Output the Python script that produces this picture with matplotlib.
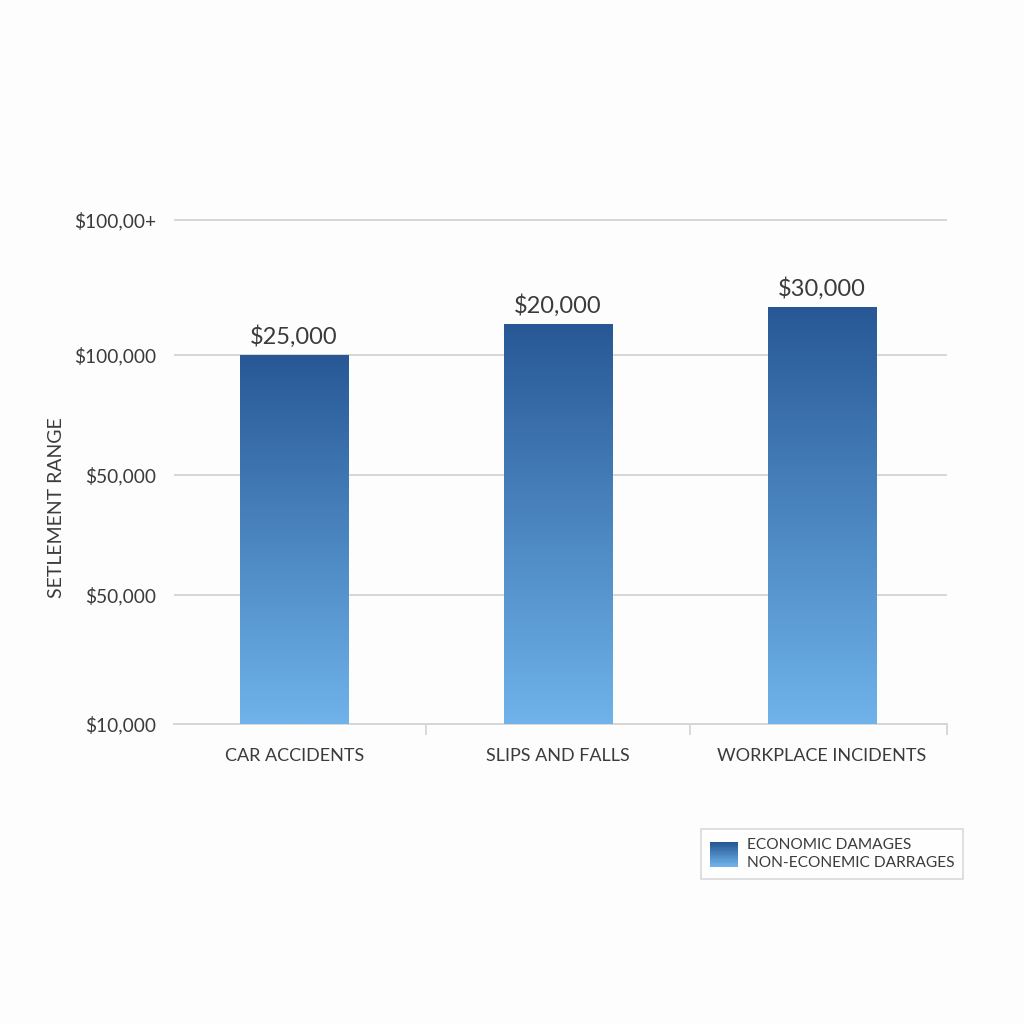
import numpy as np
import matplotlib.pyplot as plt
from matplotlib.patches import Rectangle
from matplotlib.legend_handler import HandlerBase
from matplotlib.colors import LinearSegmentedColormap

plt.rcParams['font.family'] = ['Lato', 'DejaVu Sans']

categories = ['CAR ACCIDENTS', 'SLIPS AND FALLS', 'WORKPLACE INCIDENTS']
# bar heights in axis units (the axis labels are not linear)
bar_heights = [369, 400, 417]
value_labels = ['$25,000', '$20,000', '$30,000']
ytick_pos = [0, 129, 249, 369, 504]
ytick_labels = ['$10,000', '$50,000', '$50,000', '$100,000', '$100,00+']
legend_label = 'ECONOMIC DAMAGES\nNON-ECONEMIC DARRAGES'

top_col = '#275895'
bot_col = '#6fb3ea'
text_col = '#3b3b3b'
grid_col = '#d6d6d6'
cmap = LinearSegmentedColormap.from_list('blues', [bot_col, top_col])


class GradientHandler(HandlerBase):
    def create_artists(self, legend, orig_handle, xdescent, ydescent,
                       width, height, fontsize, trans):
        n = 30
        arts = []
        for i in range(n):
            r = Rectangle((-xdescent, -ydescent + height * i / n), width, height / n + 0.3,
                          facecolor=cmap(i / (n - 1)), edgecolor='none', transform=trans)
            arts.append(r)
        return arts


fig = plt.figure(figsize=(10.24, 10.24), dpi=100, facecolor='#fdfdfd')
ax = fig.add_axes([0.170, 0.293, 0.755, 0.508])
ax.set_facecolor('#fdfdfd')

x = np.arange(len(categories))
width = 0.41
bars = ax.bar(x, bar_heights, width=width, color='none', zorder=3)

grad = np.linspace(0, 1, 256).reshape(-1, 1)
for b in bars:
    x0, y0 = b.get_x(), b.get_y()
    img = ax.imshow(grad, cmap=cmap, origin='lower', aspect='auto',
                    extent=[x0, x0 + b.get_width(), y0, y0 + b.get_height()], zorder=3)
    img.set_clip_path(b)

for xi, h, lab in zip(x, bar_heights, value_labels):
    ax.annotate(lab, (xi, h), xytext=(0, 5), textcoords='offset points',
                ha='center', va='bottom', fontsize=17, color=text_col)

ax.set_xlim(-0.455, 2.475)
ax.set_ylim(0, 520)
ax.set_yticks(ytick_pos)
ax.set_yticklabels(ytick_labels, fontsize=13.8, color=text_col)
ax.set_xticks(x)
ax.set_xticklabels(categories, fontsize=13, color=text_col)
ax.tick_params(axis='x', length=0, pad=17)
ax.tick_params(axis='y', length=0, pad=13)
ax.set_xticks([0.5, 1.5, 2.475], minor=True)
ax.tick_params(axis='x', which='minor', length=8, color=grid_col, width=1.3)

ax.grid(axis='y', color=grid_col, linewidth=1.4, zorder=0)
ax.set_axisbelow(True)
for s in ['top', 'right', 'left']:
    ax.spines[s].set_visible(False)
ax.spines['bottom'].set_color(grid_col)
ax.spines['bottom'].set_linewidth(1.4)

fig.text(57 / 1024, 1 - 508 / 1024, 'SETLEMENT RANGE', rotation=90,
         ha='center', va='center', fontsize=14, color=text_col)

leg = fig.legend([Rectangle((0, 0), 1, 1)], [legend_label],
                 handler_map={Rectangle: GradientHandler()},
                 loc='center', bbox_to_anchor=(832 / 1024, 1 - 854 / 1024),
                 fontsize=11.2, handlelength=1.8, handleheight=2.0,
                 handletextpad=0.6, frameon=True, fancybox=False,
                 borderpad=0.55, labelspacing=0.2)
leg.get_frame().set_edgecolor('#d0d0d0')
leg.get_frame().set_linewidth(1.2)
for t in leg.get_texts():
    t.set_color(text_col)
    t.set_linespacing(1.45)

fig.savefig('out.png', dpi=100, facecolor=fig.get_facecolor())
